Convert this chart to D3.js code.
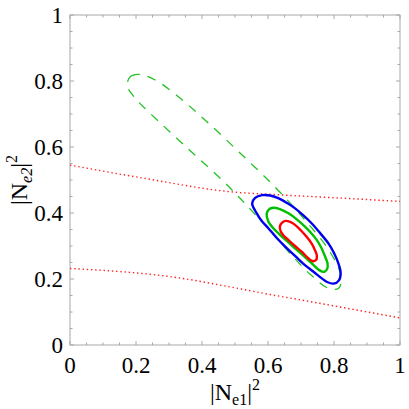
<!DOCTYPE html>
<html>
<head>
<meta charset="utf-8">
<script src="https://cdn.jsdelivr.net/npm/d3@7"></script>
<style>
  body { margin: 0; background: #fff; }
  svg text { font-family: "Liberation Serif", "Times New Roman", Times, serif; fill: #000; }
</style>
</head>
<body>
<div id="chart"></div>
<script>
// values: [|Ne1|^2, |Ne2|^2]
var redUpper = [[0, 0.545], [0.22, 0.506], [0.49, 0.464], [0.636, 0.455], [0.879, 0.442], [1, 0.435]]
var redLower = [[0, 0.232], [0.333, 0.203], [0.49, 0.175], [0.606, 0.153], [0.68, 0.140], [1, 0.082]]

var greenDashed = [[0.173, 0.788], [0.185, 0.815], [0.212, 0.820], [0.258, 0.803], [0.318, 0.761],
  [0.409, 0.682], [0.515, 0.582], [0.621, 0.479], [0.712, 0.379], [0.788, 0.282], [0.821, 0.209],
  [0.815, 0.173], [0.788, 0.170], [0.727, 0.215], [0.582, 0.373], [0.476, 0.485], [0.352, 0.600],
  [0.242, 0.703], [0.194, 0.752]]

var blueContour = [[0.552, 0.429], [0.561, 0.446], [0.582, 0.454], [0.606, 0.453], [0.631, 0.445],
  [0.658, 0.430], [0.682, 0.414], [0.708, 0.392], [0.732, 0.369], [0.758, 0.339], [0.783, 0.308],
  [0.800, 0.279], [0.813, 0.248], [0.820, 0.220], [0.815, 0.196], [0.799, 0.186], [0.779, 0.191],
  [0.763, 0.202], [0.738, 0.222], [0.712, 0.242], [0.682, 0.270], [0.652, 0.298], [0.626, 0.325],
  [0.601, 0.354], [0.580, 0.377], [0.566, 0.399]]

var greenContour = [[0.596, 0.397], [0.603, 0.411], [0.616, 0.416], [0.636, 0.412], [0.662, 0.399],
  [0.688, 0.380], [0.712, 0.359], [0.732, 0.338], [0.748, 0.318], [0.762, 0.294], [0.773, 0.268],
  [0.780, 0.249], [0.780, 0.232], [0.771, 0.222], [0.755, 0.227], [0.732, 0.248], [0.708, 0.270],
  [0.682, 0.293], [0.656, 0.316], [0.631, 0.339], [0.614, 0.356], [0.601, 0.374]]

var redContour = [[0.636, 0.359], [0.642, 0.370], [0.653, 0.376], [0.667, 0.373], [0.682, 0.364],
  [0.700, 0.347], [0.717, 0.328], [0.732, 0.308], [0.742, 0.288], [0.748, 0.271], [0.746, 0.258],
  [0.736, 0.254], [0.723, 0.262], [0.702, 0.283], [0.682, 0.300], [0.662, 0.318], [0.647, 0.332],
  [0.639, 0.343]]

var tickLabels = [0, 0.2, 0.4, 0.6, 0.8, 1]

var margin = { top: 15, right: 9, bottom: 64, left: 70 }
var width = 409 - margin.left - margin.right,
    height = 409 - margin.top - margin.bottom

var serif = '"Liberation Serif", "Times New Roman", Times, serif'

var svg = d3.select("#chart").append("svg")
    .attr("width", 409)
    .attr("height", 409)
    .attr("font-family", serif)
  .append("g")
    .attr("transform", "translate(" + margin.left + "," + margin.top + ")")

var x = d3.scaleLinear().domain([0, 1]).range([0, width])
var y = d3.scaleLinear().domain([0, 1]).range([height, 0])

var minor = d3.range(0, 1.0001, 0.05)

// frame
svg.append("rect")
  .attr("x", 0).attr("y", 0)
  .attr("width", width).attr("height", height)
  .attr("fill", "none")
  .attr("stroke", "#a8a8a8")
  .attr("stroke-width", 1)

// inward ticks on all four sides
function isMajor(v) { return Math.abs(v * 5 - Math.round(v * 5)) < 1e-6 }
minor.forEach(function (v) {
  var len = isMajor(v) ? 4 : 2.5
  var g = svg.append("g").attr("stroke", "#a8a8a8").attr("stroke-width", 1)
  g.append("line").attr("x1", x(v)).attr("x2", x(v)).attr("y1", height).attr("y2", height - len)
  g.append("line").attr("x1", x(v)).attr("x2", x(v)).attr("y1", 0).attr("y2", len)
  g.append("line").attr("x1", 0).attr("x2", len).attr("y1", y(v)).attr("y2", y(v))
  g.append("line").attr("x1", width).attr("x2", width - len).attr("y1", y(v)).attr("y2", y(v))
})

var fmt = function (d) { return d === 0 || d === 1 ? String(d) : d.toFixed(1) }

svg.selectAll(".xlab").data(tickLabels).enter().append("text")
  .attr("x", function (d) { return x(d) })
  .attr("y", height + 28)
  .attr("text-anchor", "middle")
  .attr("font-family", serif)
  .attr("font-size", 23)
  .text(fmt)

svg.selectAll(".ylab").data(tickLabels).enter().append("text")
  .attr("x", -7)
  .attr("y", function (d) { return y(d) + 8 })
  .attr("text-anchor", "end")
  .attr("font-family", serif)
  .attr("font-size", 23)
  .text(fmt)

// axis titles
var xt = svg.append("text")
  .attr("x", width / 2)
  .attr("y", height + 55)
  .attr("text-anchor", "middle")
  .attr("font-family", serif)
  .attr("font-size", 24)
xt.append("tspan").text("|N")
xt.append("tspan").attr("font-size", 16).attr("dy", 5).text("e1")
xt.append("tspan").attr("dy", -5).text("|")
xt.append("tspan").attr("font-size", 16).attr("dy", -10).text("2")

var yt = svg.append("text")
  .attr("transform", "translate(" + (27 - margin.left) + "," + (height / 2) + ") rotate(-90)")
  .attr("text-anchor", "middle")
  .attr("font-family", serif)
  .attr("font-size", 24)
yt.append("tspan").text("|N")
yt.append("tspan").attr("font-size", 16).attr("dy", 5).attr("font-style", "italic").text("e2")
yt.append("tspan").attr("dy", -5).text("|")
yt.append("tspan").attr("font-size", 16).attr("dy", -10).text("2")

var plot = svg.append("g")

var openLine = d3.line()
  .x(function (d) { return x(d[0]) })
  .y(function (d) { return y(d[1]) })
  .curve(d3.curveMonotoneX)

var loopLine = d3.line()
  .x(function (d) { return x(d[0]) })
  .y(function (d) { return y(d[1]) })
  .curve(d3.curveCatmullRomClosed.alpha(0.5))

;[redUpper, redLower].forEach(function (c) {
  plot.append("path")
    .attr("d", openLine(c))
    .attr("fill", "none")
    .attr("stroke", "#ff2020")
    .attr("stroke-width", 1.4)
    .attr("stroke-dasharray", "1.4,2.8")
})

plot.append("path")
  .attr("d", loopLine(greenDashed))
  .attr("fill", "none")
  .attr("stroke", "#22c322")
  .attr("stroke-width", 1.3)
  .attr("stroke-dasharray", "9,8")

plot.append("path")
  .attr("d", loopLine(blueContour))
  .attr("fill", "none")
  .attr("stroke", "#0000ee")
  .attr("stroke-width", 2.4)

plot.append("path")
  .attr("d", loopLine(greenContour))
  .attr("fill", "none")
  .attr("stroke", "#00c000")
  .attr("stroke-width", 2.4)

plot.append("path")
  .attr("d", loopLine(redContour))
  .attr("fill", "none")
  .attr("stroke", "#ff0000")
  .attr("stroke-width", 2.4)
</script>
</body>
</html>
